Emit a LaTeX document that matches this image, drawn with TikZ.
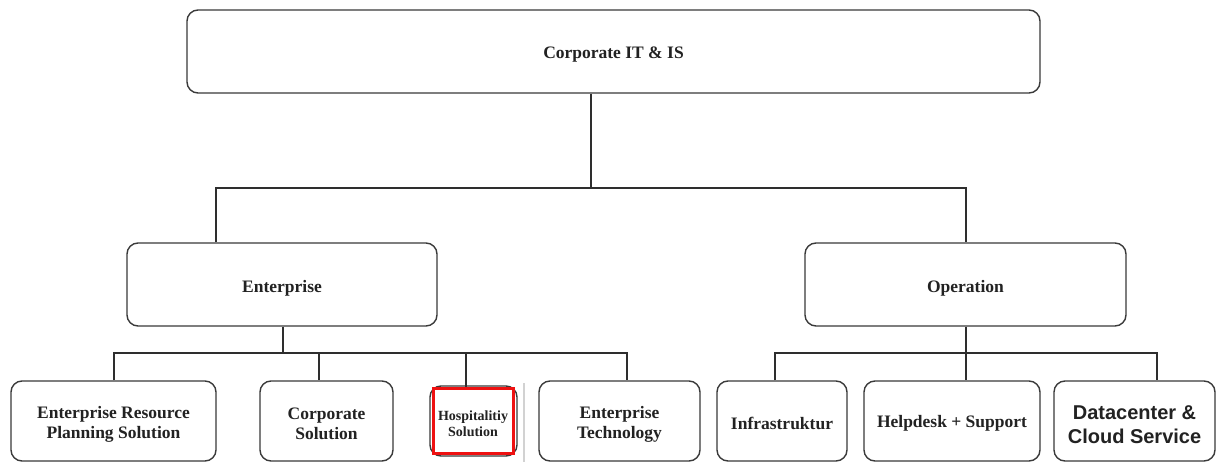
\documentclass[tikz,border=0pt]{standalone}
\usepackage{fontspec}
\setmainfont{Liberation Serif}
\newfontfamily\arialfont{Liberation Sans}
\definecolor{boxc}{HTML}{3A3A3A}
\definecolor{linec}{HTML}{2E2E2E}
\definecolor{txtc}{HTML}{222222}
\definecolor{hred}{HTML}{EE1111}
\begin{document}
\begin{tikzpicture}[x=1pt,y=-1pt,
  box/.style={draw=boxc, line width=1.4pt, rounded corners=11pt, inner sep=0pt},
  lowbox/.style={box, minimum height=80pt},
  lbl/.style={align=center, inner sep=0pt, text=txtc, font=\fontsize{17.5}{20}\selectfont\bfseries},
  conn/.style={draw=linec, line width=1.4pt}]
\useasboundingbox (0,0) rectangle (1221,462);
\fill[white] (0,0) rectangle (1221,462);

% top levels
\node[box, minimum width=853pt, minimum height=83pt] (top) at (613.5,51.5) {};
\node[lbl] (top-t) at ([yshift=-3pt]top.center) {Corporate IT \& IS};
\node[box, minimum width=310pt, minimum height=83pt] (ent) at (282,284.5) {};
\node[lbl] (ent-t) at ([yshift=-3.5pt]ent.center) {Enterprise};
\node[box, minimum width=321pt, minimum height=83pt] (op) at (965.5,284.5) {};
\node[lbl] (op-t) at ([yshift=-3.5pt]op.center) {Operation};

% bottom level
\node[lowbox, minimum width=205pt] (erp) at (113.5,421) {};
\node[lbl] (erp-t) at ([yshift=-3pt]erp.center) {Enterprise Resource\\Planning Solution};
\node[lowbox, minimum width=133pt] (cs) at (326.5,421) {};
\node[lbl] (cs-t) at ([yshift=-3pt]cs.center) {Corporate\\Solution};
\node[box, minimum width=87pt, minimum height=70pt] (hospbg) at (473.5,421) {};
\node[draw=hred, line width=3pt, fill=white, minimum width=80pt, minimum height=65pt, inner sep=0pt] (hosp) at (473,420.5) {};
\node[lbl, font=\fontsize{14}{16}\selectfont\bfseries] (hosp-t) at ([yshift=-3pt]hosp.center) {Hospitalitiy\\Solution};
\node[lowbox, minimum width=161pt] (et) at (619.5,421) {};
\node[lbl] (et-t) at ([yshift=-3pt]et.center) {Enterprise\\Technology};
\node[lowbox, minimum width=130pt] (inf) at (782,421) {};
\node[lbl] (inf-t) at ([yshift=-2.5pt]inf.center) {Infrastruktur};
\node[lowbox, minimum width=176pt] (help) at (952,421) {};
\node[lbl] (help-t) at ([yshift=-2.5pt]help.center) {Helpdesk + Support};
\node[lowbox, minimum width=161pt] (dc) at (1134.5,421) {};
\node[lbl, font=\arialfont\fontsize{20}{24}\selectfont\bfseries] (dc-t) at ([yshift=-4pt]dc.center) {Datacenter \&\\Cloud Service};

% faint edge beside hospitality box
\draw[gray!35, line width=1.5pt] (524,383) -- (524,462);

% connectors level 1
\coordinate (t1) at (591,188);
\coordinate (bl) at (216,188);
\coordinate (br) at (966,188);
\draw[conn] (t1 |- top.south) -- (t1);
\draw[conn] (bl |- ent.north) -- (bl) -- (br) -- (br |- op.north);

% enterprise bus
\coordinate (e0) at (283,353);
\coordinate (e1) at (114,353);
\coordinate (e2) at (319,353);
\coordinate (e3) at (466,353);
\coordinate (e4) at (627,353);
\draw[conn] (e0 |- ent.south) -- (e0);
\draw[conn] (e1 |- erp.north) -- (e1) -- (e4) -- (e4 |- et.north);
\draw[conn] (e2) -- (e2 |- cs.north);
\draw[conn] (e3) -- (e3 |- hosp.north);

% operation bus
\coordinate (o1) at (775,353);
\coordinate (o2) at (966,353);
\coordinate (o3) at (1157,353);
\draw[conn] (o2 |- op.south) -- (o2) -- (o2 |- help.north);
\draw[conn] (o1 |- inf.north) -- (o1) -- (o3) -- (o3 |- dc.north);
\end{tikzpicture}
\end{document}
